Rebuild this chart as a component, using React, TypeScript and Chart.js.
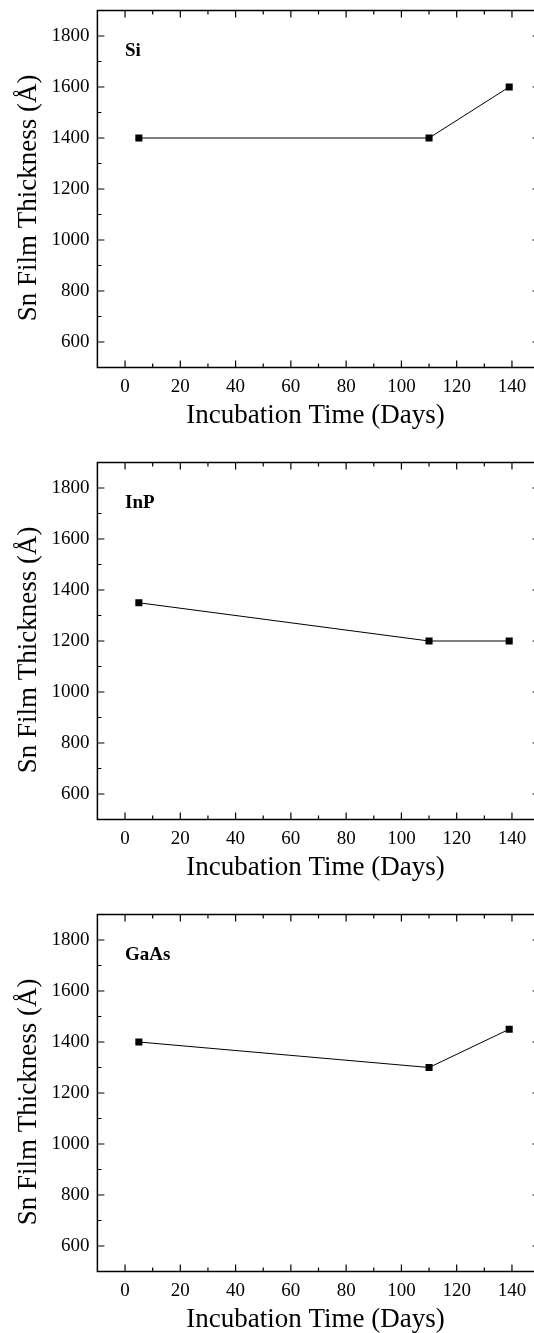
import React, { useEffect, useRef } from 'react';
import { Chart, registerables } from 'chart.js';

Chart.register(...registerables);

// ---- data ----
const days = [5, 110, 139];
const siThickness = [1400, 1400, 1600];
const inpThickness = [1350, 1200, 1200];
const gaasThickness = [1400, 1300, 1450];

const panelNames = ['Si', 'InP', 'GaAs'];
const panelValues = [siThickness, inpThickness, gaasThickness];

const xMajorTicks = [0, 20, 40, 60, 80, 100, 120, 140];
const xMinorTicks = [10, 30, 50, 70, 90, 110, 130];
const yMajorTicks = [600, 800, 1000, 1200, 1400, 1600, 1800];
const yMinorTicks = [700, 900, 1100, 1300, 1500, 1700];

const xTitle = 'Incubation Time (Days)';
const yTitle = 'Sn Film Thickness (Å)';

const X_MIN = -10;
const X_MAX = 150;
const Y_MIN = 500;
const Y_MAX = 1900;
const LABEL_X = 0;
const LABEL_Y = 1720;

// ---- layout / style ----
const SERIF = '"Liberation Serif", "Times New Roman", serif';
const W = 550;
const H = 452;
const AREA_LEFT = 97.4;
const AREA_RIGHT = 539.6;
const AREA_TOP = 10.5;
const AREA_BOTTOM = 367.5;

function Panel({ name, values }: { name: string; values: number[] }) {
  const ref = useRef<HTMLCanvasElement | null>(null);

  useEffect(() => {
    if (!ref.current) return;
    const framePlugin = {
      id: 'frameTicks',
      afterDraw(chart: any) {
        const { ctx, chartArea: a, scales } = chart;
        const x = scales.x;
        const y = scales.y;
        ctx.save();
        ctx.strokeStyle = '#000';
        ctx.lineWidth = 1.5;
        ctx.strokeRect(a.left, a.top, a.right - a.left, a.bottom - a.top);

        ctx.lineWidth = 1.2;
        ctx.beginPath();
        const tickX = (v: number, len: number) => {
          const p = x.getPixelForValue(v);
          ctx.moveTo(p, a.bottom);
          ctx.lineTo(p, a.bottom - len);
          ctx.moveTo(p, a.top);
          ctx.lineTo(p, a.top + len);
        };
        const tickY = (v: number, len: number) => {
          const p = y.getPixelForValue(v);
          ctx.moveTo(a.left, p);
          ctx.lineTo(a.left + len, p);
          ctx.moveTo(a.right, p);
          ctx.lineTo(a.right - len, p);
        };
        xMajorTicks.forEach((v) => tickX(v, 7));
        xMinorTicks.forEach((v) => tickX(v, 4));
        yMajorTicks.forEach((v) => tickY(v, 7));
        yMinorTicks.forEach((v) => tickY(v, 4));
        ctx.stroke();

        ctx.fillStyle = '#000';
        ctx.font = `bold 19px ${SERIF}`;
        ctx.textAlign = 'left';
        ctx.textBaseline = 'alphabetic';
        ctx.fillText(name, x.getPixelForValue(LABEL_X), y.getPixelForValue(LABEL_Y));

        ctx.font = `27px ${SERIF}`;
        ctx.textAlign = 'center';
        ctx.fillText(xTitle, (a.left + a.right) / 2 - 3, a.bottom + 55.5);

        ctx.translate(36, (a.top + a.bottom) / 2 + 9);
        ctx.rotate(-Math.PI / 2);
        ctx.fillText(yTitle, 0, 0);
        ctx.restore();
      },
    };

    const chart = new Chart(ref.current, {
      type: 'line',
      data: {
        datasets: [
          {
            data: days.map((d, i) => ({ x: d, y: values[i] })),
            borderColor: '#000',
            borderWidth: 1,
            pointStyle: 'rect',
            pointRadius: 5,
            pointBackgroundColor: '#000',
            pointBorderWidth: 0,
            tension: 0,
          },
        ],
      },
      options: {
        responsive: false,
        animation: false,
        events: [],
        layout: { padding: { top: AREA_TOP, right: W - AREA_RIGHT, left: 0, bottom: 0 } },
        plugins: { legend: { display: false }, tooltip: { enabled: false } },
        scales: {
          x: {
            type: 'linear',
            min: X_MIN,
            max: X_MAX,
            grid: { display: false, drawTicks: false },
            border: { display: false },
            ticks: {
              font: { family: SERIF, size: 19 },
              color: '#000',
              padding: 8,
              autoSkip: false,
              maxRotation: 0,
              callback: (v: any) => String(v),
            },
            afterBuildTicks: (s: any) => {
              s.ticks = xMajorTicks.map((v) => ({ value: v }));
            },
            afterFit: (s: any) => {
              s.height = H - AREA_BOTTOM;
              s.paddingLeft = 0;
              s.paddingRight = 0;
            },
          },
          y: {
            type: 'linear',
            min: Y_MIN,
            max: Y_MAX,
            grid: { display: false, drawTicks: false },
            border: { display: false },
            ticks: {
              font: { family: SERIF, size: 19 },
              color: '#000',
              padding: 8,
              autoSkip: false,
              callback: (v: any) => String(v),
            },
            afterBuildTicks: (s: any) => {
              s.ticks = yMajorTicks.map((v) => ({ value: v }));
            },
            afterFit: (s: any) => {
              s.width = AREA_LEFT;
              s.paddingTop = 0;
              s.paddingBottom = 0;
            },
          },
        },
      } as any,
      plugins: [framePlugin],
    });
    return () => chart.destroy();
  }, [name, values]);

  return <canvas ref={ref} width={W} height={H} style={{ width: W, height: H, display: 'block' }} />;
}

export default function App() {
  return (
    <div style={{ position: 'absolute', left: 0, top: 0, width: 534, height: 1333, background: '#fff', overflow: 'hidden' }}>
      {panelNames.map((n, i) => (
        <div
          key={n}
          style={{ position: 'absolute', left: 0, top: i * H, width: 534, height: H, overflow: 'hidden' }}
        >
          <Panel name={n} values={panelValues[i]} />
        </div>
      ))}
    </div>
  );
}
